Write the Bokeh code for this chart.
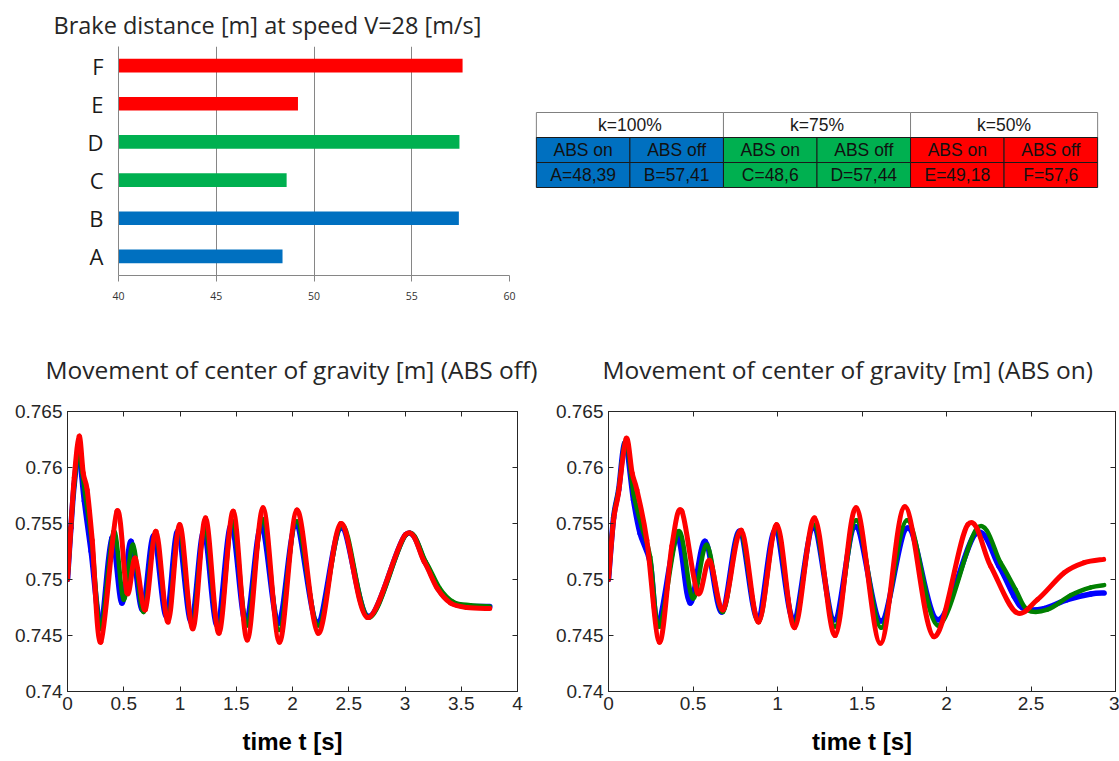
import numpy as np
from bokeh.plotting import figure
from bokeh.models import (FactorRange, Range1d, FixedTicker, LinearAxis, Title,
                          ColumnDataSource)
from bokeh.layouts import column, row
from bokeh.embed import file_html
from bokeh.resources import INLINE
from bokeh.core.properties import value

# ---------------- data ----------------
CASES = ["A", "B", "C", "D", "E", "F"]
DISTANCES = [48.39, 57.41, 48.6, 57.44, 49.18, 57.6]
GROUP_LABELS = ["k=100%", "k=75%", "k=50%"]
ABS_LABELS = ["ABS on", "ABS off"]
GROUP_COLORS = ["#0070C0", "#00B050", "#FF0000"]
BAR_TICKS = [40, 45, 50, 55, 60]

Y_TICKS = [0.74, 0.745, 0.75, 0.755, 0.76, 0.765]
Y_TICK_LABELS = ["0.74", "0.745", "0.75", "0.755", "0.76", "0.765"]
X_TICKS_OFF = [0, 0.5, 1, 1.5, 2, 2.5, 3, 3.5, 4]
X_TICK_LABELS_OFF = ["0", "0.5", "1", "1.5", "2", "2.5", "3", "3.5", "4"]
X_TICKS_ON = [0, 0.5, 1, 1.5, 2, 2.5, 3]
X_TICK_LABELS_ON = ["0", "0.5", "1", "1.5", "2", "2.5", "3"]

# ABS off (k=100% blue, k=75% green, k=50% red)
BLUE_OFF_T = [0, 0.03, 0.06, 0.10, 0.15, 0.21, 0.297, 0.395, 0.484, 0.565, 0.666, 0.767,
              0.879, 0.98, 1.10, 1.212, 1.331, 1.456, 1.586, 1.723, 1.875, 2.03, 2.222,
              2.433, 2.675, 3.005, 3.18, 3.30, 3.42, 3.57, 3.754]
BLUE_OFF_Y = [0.75, 0.7546, 0.7585, 0.7612, 0.7570, 0.7525, 0.7461, 0.7537, 0.7479, 0.7534,
              0.7473, 0.7539, 0.7467, 0.7543, 0.7462, 0.7543, 0.7459, 0.7549, 0.7461, 0.7548,
              0.7461, 0.7548, 0.7462, 0.7546, 0.7467, 0.7540, 0.7515, 0.7491, 0.7479, 0.7476,
              0.7476]
GREEN_OFF_T = [0, 0.03, 0.06, 0.10, 0.157, 0.22, 0.297, 0.41, 0.499, 0.582, 0.677, 0.781,
               0.891, 0.992, 1.108, 1.221, 1.343, 1.468, 1.595, 1.735, 1.881, 2.035, 2.228,
               2.44, 2.678, 3.01, 3.184, 3.31, 3.43, 3.58, 3.754]
GREEN_OFF_Y = [0.75, 0.7546, 0.7585, 0.7612, 0.7576, 0.7530, 0.7456, 0.7543, 0.7482, 0.7531,
               0.7471, 0.7540, 0.7465, 0.7545, 0.7461, 0.7546, 0.7456, 0.7552, 0.7459, 0.7554,
               0.7455, 0.7552, 0.7459, 0.7549, 0.7466, 0.7540, 0.7516, 0.7492, 0.7480, 0.7477,
               0.7476]
RED_OFF_T = [0, 0.03, 0.06, 0.104, 0.14, 0.175, 0.22, 0.297, 0.44, 0.529, 0.603, 0.692,
             0.787, 0.894, 0.998, 1.114, 1.227, 1.346, 1.473, 1.598, 1.738, 1.884, 2.04,
             2.228, 2.43, 2.667, 3.003, 3.17, 3.287, 3.404, 3.55, 3.754]
RED_OFF_Y = [0.75, 0.7546, 0.7591, 0.7628, 0.7595, 0.7580, 0.7535, 0.7444, 0.7561, 0.7488,
             0.7519, 0.7473, 0.7543, 0.7462, 0.7549, 0.7456, 0.7555, 0.7452, 0.7561, 0.7446,
             0.7564, 0.7444, 0.7562, 0.7452, 0.7550, 0.7466, 0.7540, 0.7516, 0.7492, 0.7479,
             0.7475, 0.7474]

# ABS on
BLUE_ON_T = [0, 0.03, 0.06, 0.099, 0.148, 0.187, 0.247, 0.296, 0.404, 0.483, 0.572, 0.671,
             0.775, 0.882, 0.986, 1.095, 1.213, 1.337, 1.462, 1.613, 1.771, 1.949, 2.172,
             2.31, 2.40, 2.459, 2.577, 2.715, 2.854, 2.933]
BLUE_ON_Y = [0.75, 0.7555, 0.7580, 0.7622, 0.7571, 0.7541, 0.7515, 0.7461, 0.7538, 0.7479,
             0.7534, 0.7471, 0.7543, 0.7465, 0.7544, 0.7464, 0.7546, 0.7464, 0.7547, 0.7463,
             0.7546, 0.7464, 0.7541, 0.7512, 0.7485, 0.7474, 0.7474, 0.7482, 0.7487, 0.7488]
GREEN_ON_T = [0, 0.03, 0.06, 0.103, 0.148, 0.197, 0.247, 0.302, 0.414, 0.499, 0.582, 0.677,
              0.779, 0.888, 0.992, 1.099, 1.215, 1.341, 1.466, 1.613, 1.767, 1.949, 2.182,
              2.32, 2.409, 2.478, 2.597, 2.735, 2.854, 2.933]
GREEN_ON_Y = [0.75, 0.7555, 0.7580, 0.7624, 0.7577, 0.7547, 0.7520, 0.7458, 0.7543, 0.7483,
              0.7531, 0.7471, 0.7543, 0.7462, 0.7546, 0.7461, 0.7549, 0.7458, 0.7553, 0.7457,
              0.7553, 0.7459, 0.7546, 0.7515, 0.7491, 0.7473, 0.7473, 0.7486, 0.7493, 0.7495]
RED_ON_T = [0, 0.03, 0.059, 0.105, 0.14, 0.168, 0.227, 0.302, 0.375, 0.434, 0.527, 0.598,
            0.68, 0.785, 0.888, 0.996, 1.101, 1.219, 1.341, 1.465, 1.609, 1.753, 1.925,
            2.126, 2.261, 2.409, 2.538, 2.696, 2.814, 2.93]
RED_ON_Y = [0.75, 0.7553, 0.7577, 0.7626, 0.7595, 0.7580, 0.7535, 0.7444, 0.7530, 0.7561,
            0.7488, 0.7517, 0.7473, 0.7544, 0.7462, 0.7549, 0.7457, 0.7555, 0.7450, 0.7564,
            0.7443, 0.7565, 0.7449, 0.7549, 0.7512, 0.7471, 0.7482, 0.7506, 0.7515, 0.7518]

LINE_COLORS = ["#0000FF", "#008000", "#FF0000"]
LINE_WIDTHS = [5.5, 4.5, 5]

TITLE_FONT = "Open Sans"
AXIS_FONT = "Liberation Sans"

# ---------------- bar chart ----------------
BAR_TOP, BAR_FRAME_H, ROW1_H = 46, 229, 305
bar_colors = [GROUP_COLORS[i // 2] for i in range(len(CASES))]
bar = figure(y_range=FactorRange(*CASES), x_range=Range1d(40, 60),
             frame_width=391, frame_height=BAR_FRAME_H,
             min_border_left=118, min_border_right=15, min_border_top=BAR_TOP,
             min_border_bottom=ROW1_H - BAR_TOP - BAR_FRAME_H,
             toolbar_location=None, output_backend="svg",
             title=Title(text="Brake distance [m] at speed V=28 [m/s]", align="left",
                         offset=-65, text_font=TITLE_FONT, text_font_size="23.5px",
                         text_font_style="normal", text_color="#262626", standoff=12))
bar.outline_line_color = None
bar.hbar(y=CASES, right=DISTANCES, left=40, height=0.36, color=bar_colors, line_color=None)
bar.ygrid.visible = False
bar.xgrid.grid_line_color = "#868686"
bar.xaxis.ticker = FixedTicker(ticks=BAR_TICKS)
bar.xaxis.axis_line_color = "#868686"
bar.xaxis.major_tick_line_color = "#868686"
bar.xaxis.major_tick_out = 6
bar.xaxis.major_tick_in = 0
bar.xaxis.minor_tick_line_color = None
bar.xaxis.major_label_standoff = 10
bar.xaxis.major_label_text_font = TITLE_FONT
bar.xaxis.major_label_text_font_size = "10.5px"
bar.xaxis.major_label_text_color = "#333333"
bar.yaxis.axis_line_color = "#868686"
bar.yaxis.major_tick_line_color = None
bar.yaxis.minor_tick_line_color = None
bar.yaxis.major_label_standoff = 9
bar.yaxis.major_label_text_font = TITLE_FONT
bar.yaxis.major_label_text_font_size = "22px"
bar.yaxis.major_label_text_color = "#1a1a1a"

# ---------------- table (same frame band as the bar chart) ----------------
tab = figure(x_range=Range1d(-0.02, 6.02), y_range=Range1d(-3.52, 5.64),
             frame_width=565, frame_height=BAR_FRAME_H,
             min_border_left=10, min_border_right=20, min_border_top=BAR_TOP,
             min_border_bottom=ROW1_H - BAR_TOP - BAR_FRAME_H,
             x_axis_type=None, y_axis_type=None, toolbar_location=None, output_backend="svg")
tab.outline_line_color = None
tab.xgrid.visible = False
tab.ygrid.visible = False
ng = len(GROUP_LABELS)
tab.quad(left=[2 * i for i in range(ng)], right=[2 * i + 2 for i in range(ng)],
         bottom=2, top=3, fill_color="white", line_color="#808080", line_width=1)
cell_left = list(range(len(CASES)))
cell_right = [i + 1 for i in cell_left]
tab.quad(left=cell_left, right=cell_right, bottom=1, top=2, fill_color=bar_colors,
         line_color="#1a1a1a", line_width=1)
tab.quad(left=cell_left, right=cell_right, bottom=0, top=1, fill_color=bar_colors,
         line_color="#1a1a1a", line_width=1)
tab.text(x=[2 * i + 1 for i in range(ng)], y=[2.5] * ng, text=GROUP_LABELS,
         text_align="center", text_baseline="middle", text_font=value(AXIS_FONT),
         text_font_size="17.5px", text_color="#1a1a1a")
abs_texts = [ABS_LABELS[i % 2] for i in range(len(CASES))]
val_texts = [f"{c}={str(d).replace('.', ',')}" for c, d in zip(CASES, DISTANCES)]
tab.text(x=[i + 0.5 for i in cell_left], y=[1.5] * len(CASES), text=abs_texts,
         text_align="center", text_baseline="middle", text_font=value(AXIS_FONT),
         text_font_size="17.5px", text_color="#111111")
tab.text(x=[i + 0.5 for i in cell_left], y=[0.5] * len(CASES), text=val_texts,
         text_align="center", text_baseline="middle", text_font=value(AXIS_FONT),
         text_font_size="17.5px", text_color="#111111")


# ---------------- line charts ----------------
def smooth_segments(t, y):
    """Catmull-Rom control points for drawing the read points as a smooth curve."""
    x = np.asarray(t, float)
    v = np.asarray(y, float)
    xp = np.concatenate([[x[0]], x, [x[-1]]])
    vp = np.concatenate([[v[0]], v, [v[-1]]])
    x0, x1, x2, x3 = xp[:-3], xp[1:-2], xp[2:-1], xp[3:]
    v0, v1, v2, v3 = vp[:-3], vp[1:-2], vp[2:-1], vp[3:]
    return dict(x0=x1, y0=v1, x1=x2, y1=v2,
                cx0=x1 + (x2 - x0) / 6, cy0=v1 + (v2 - v0) / 6,
                cx1=x2 - (x3 - x1) / 6, cy1=v2 - (v3 - v1) / 6)


def line_fig(title, t_max, x_ticks, x_labels, left_border, frame_w, right_border,
             title_offset, series):
    p = figure(x_range=Range1d(0, t_max), y_range=Range1d(0.74, 0.765),
               frame_width=frame_w, frame_height=280,
               min_border_left=left_border, min_border_right=right_border,
               min_border_top=106, min_border_bottom=70,
               toolbar_location=None, output_backend="svg",
               title=Title(text=title, align="left", offset=title_offset,
                           text_font=TITLE_FONT, text_font_size="24.5px",
                           text_font_style="normal", text_color="#262626", standoff=52))
    p.outline_line_color = "#262626"
    p.xgrid.visible = False
    p.ygrid.visible = False
    xb = p.xaxis[0]
    yl = p.yaxis[0]
    xb.ticker = FixedTicker(ticks=x_ticks)
    xb.major_label_overrides = dict(zip(x_ticks, x_labels))
    yl.ticker = FixedTicker(ticks=Y_TICKS)
    yl.major_label_overrides = dict(zip(Y_TICKS, Y_TICK_LABELS))
    for ax in (xb, yl):
        ax.major_tick_in = 5
        ax.major_tick_out = 0
        ax.minor_tick_line_color = None
        ax.axis_line_color = "#262626"
        ax.major_tick_line_color = "#262626"
        ax.major_label_text_font = AXIS_FONT
        ax.major_label_text_font_size = "19px"
        ax.major_label_text_color = "#262626"
    xb.major_label_standoff = 5
    yl.major_label_standoff = 5
    xb.axis_label = "time t [s]"
    xb.axis_label_text_font = AXIS_FONT
    xb.axis_label_text_font_size = "24px"
    xb.axis_label_text_font_style = "bold"
    xb.axis_label_text_color = "#000000"
    xb.axis_label_standoff = 15
    xt = LinearAxis(ticker=FixedTicker(ticks=x_ticks),
                    major_label_overrides={t: "" for t in x_ticks},
                    major_label_text_font_size="1px",
                    major_label_standoff=0, major_tick_in=5, major_tick_out=0,
                    minor_tick_line_color=None, axis_line_color="#262626",
                    major_tick_line_color="#262626")
    yr = LinearAxis(ticker=FixedTicker(ticks=Y_TICKS),
                    major_label_overrides={t: "" for t in Y_TICKS},
                    major_label_text_font_size="1px",
                    major_label_standoff=0, major_tick_in=5, major_tick_out=0,
                    minor_tick_line_color=None, axis_line_color="#262626",
                    major_tick_line_color="#262626")
    p.add_layout(xt, "above")
    p.add_layout(yr, "right")
    for (t, y), c, w in zip(series, LINE_COLORS, LINE_WIDTHS):
        src = ColumnDataSource(smooth_segments(t, y))
        p.bezier(x0="x0", y0="y0", x1="x1", y1="y1", cx0="cx0", cy0="cy0",
                 cx1="cx1", cy1="cy1", source=src, line_color=c, line_width=w,
                 line_cap="round")
    return p


left = line_fig("Movement of center of gravity  [m] (ABS off)", 4, X_TICKS_OFF,
                X_TICK_LABELS_OFF, 67, 450, 32, -22,
                [(BLUE_OFF_T, BLUE_OFF_Y), (GREEN_OFF_T, GREEN_OFF_Y), (RED_OFF_T, RED_OFF_Y)])
right = line_fig("Movement of center of gravity  [m] (ABS on)", 3, X_TICKS_ON,
                 X_TICK_LABELS_ON, 59, 507, 4, -6,
                 [(BLUE_ON_T, BLUE_ON_Y), (GREEN_ON_T, GREEN_ON_Y), (RED_ON_T, RED_ON_Y)])

layout = column(row(bar, tab), row(left, right))
open("out.html", "w").write(file_html(layout, INLINE))
